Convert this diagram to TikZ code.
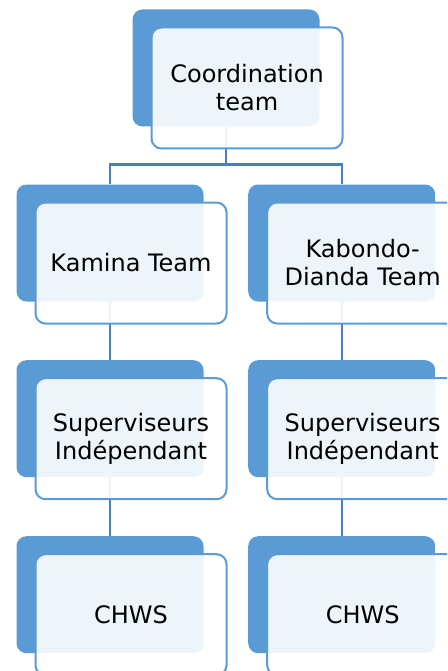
\documentclass[tikz,border=0pt]{standalone}
\usepackage{fontspec}
\setmainfont{DejaVu Sans}
\usepackage{tikz}
\usetikzlibrary{positioning,backgrounds}
\definecolor{boxblue}{HTML}{5B9BD5}
\definecolor{linkblue}{HTML}{4A7EBB}

\begin{document}
\begin{tikzpicture}[
  x=1pt, y=-1pt,
  every node/.style={font=\fontsize{24}{28}\selectfont},
  back/.style={fill=boxblue,rounded corners=10pt,inner sep=0pt,
    minimum width=187pt,minimum height=117pt},
  front/.style={draw=boxblue,line width=2pt,fill=white,fill opacity=0.9,
    text opacity=1,rounded corners=10pt,inner sep=0pt,align=center,
    minimum width=191pt,minimum height=121pt,xshift=21pt,yshift=-20pt},
  link/.style={draw=linkblue,line width=2.3pt}
]
\useasboundingbox (0,0) rectangle (447,671);
\clip (0,0) rectangle (447,671);

% top
\node[back] (coord) at (226,68) {};
\node[front] (coordT) at (226,68) {Coordination\\team};

% left column
\node[back] (kamina) at (110,243) {};
\node[front] (kaminaT) at (110,243) {Kamina Team};
\node[back] (supA) at (110,418.7) {};
\node[front] (supAT) at (110,418.7) {Superviseurs\\Indépendant};
\node[back] (chwsA) at (110,594.7) {};
\node[front] (chwsAT) at (110,594.7) {CHWS};

% right column
\node[back] (kabondo) at (341.7,243) {};
\node[front] (kabondoT) at (341.7,243) {Kabondo-\\Dianda Team};
\node[back] (supB) at (341.7,418.7) {};
\node[front] (supBT) at (341.7,418.7) {Superviseurs\\Indépendant};
\node[back] (chwsB) at (341.7,594.7) {};
\node[front] (chwsBT) at (341.7,594.7) {CHWS};

% connectors, behind the boxes
\begin{scope}[on background layer]
  \draw[link] (coord.south) -- ++(0,37.8) -| (kamina.north);
  \draw[link] (coord.south) -- ++(0,37.8) -| (kabondo.north);
  \draw[link] (kamina.south) -- (supA.north);
  \draw[link] (supA.south) -- (chwsA.north);
  \draw[link] (kabondo.south) -- (supB.north);
  \draw[link] (supB.south) -- (chwsB.north);
\end{scope}

\end{tikzpicture}
\end{document}
